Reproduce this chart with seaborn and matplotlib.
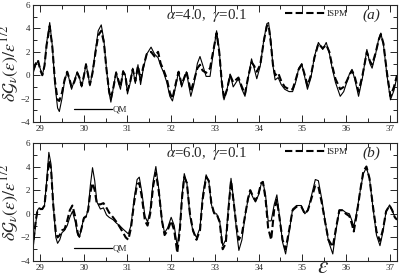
import numpy as np
import pandas as pd
import matplotlib
matplotlib.use("Agg")
import matplotlib.pyplot as plt
from matplotlib.lines import Line2D
from matplotlib.ticker import MultipleLocator
import seaborn as sns

# panel (a): alpha=4.0, gamma=0.1
eps_a_qm = [28.85, 28.90, 28.95, 29.00, 29.05, 29.10, 29.15, 29.22, 29.28, 29.34,
            29.40, 29.44, 29.50, 29.56, 29.62, 29.67, 29.72, 29.78, 29.85, 29.90,
            29.95, 30.00, 30.05, 30.10, 30.14, 30.20, 30.27, 30.33, 30.40, 30.46,
            30.52, 30.58, 30.62, 30.68, 30.74, 30.79, 30.84, 30.90, 30.95, 31.00,
            31.06, 31.12, 31.18, 31.24, 31.30, 31.36, 31.44, 31.54, 31.62, 31.70,
            31.76, 31.82, 31.90, 31.97, 32.03, 32.10, 32.17, 32.24, 32.30, 32.35,
            32.40, 32.45, 32.52, 32.60, 32.66, 32.72, 32.80, 32.89, 32.96, 33.04,
            33.10, 33.16, 33.21, 33.28, 33.35, 33.42, 33.54, 33.62, 33.69, 33.76,
            33.84, 33.90, 33.96, 34.04, 34.12, 34.19, 34.23, 34.28, 34.33, 34.38,
            34.45, 34.52, 34.60, 34.70, 34.78, 34.85, 34.92, 34.99, 35.06, 35.12,
            35.20, 35.28, 35.37, 35.47, 35.55, 35.62, 35.68, 35.76, 35.87, 35.95,
            36.02, 36.08, 36.14, 36.20, 36.29, 36.38, 36.48, 36.55, 36.60, 36.68,
            36.75, 36.80, 36.86, 36.94, 37.02, 37.10, 37.17]
dg_a_qm = [0.3, 0.9, 1.2, 0.6, 0.0, 0.8, 2.8, 4.5, 2.5, -0.8,
           -2.8, -3.1, -2.0, -0.5, 0.3, -0.4, -1.2, -0.5, 0.3, -0.2,
           -1.0, -0.2, 1.0, 0.0, -0.9, 0.3, 2.2, 3.8, 4.3, 3.0,
           0.5, -1.5, -2.3, -1.0, 0.3, -0.6, -1.2, 0.4, 0.0, -1.6,
           -0.7, 0.6, -0.7, 0.9, -0.8, 0.5, 1.8, 2.4, 1.8, 1.5,
           0.8, 0.3, -0.6, -1.8, -2.2, -1.0, 0.3, -1.0, -0.3, 0.3,
           -0.8, -1.8, -0.8, 1.0, 1.6, 0.9, -0.1, -0.1, 1.8, 3.8,
           2.2, -0.8, -2.1, -1.2, 0.1, -1.0, -0.3, -1.2, -1.8, -0.3,
           1.4, 0.6, -0.3, 0.8, 3.0, 4.4, 4.5, 3.0, 0.8, -0.4,
           -0.2, -0.8, -1.2, -1.4, -1.4, -0.6, 0.6, 1.0, -0.2, -1.2,
           -0.2, 1.6, 2.8, 2.2, 2.8, 1.9, 0.7, -0.6, -1.8, -1.4,
           -0.6, 0.1, 0.5, -0.3, -1.8, -0.2, 2.2, 1.0, 0.6, 1.8,
           3.1, 3.6, 2.6, 0.0, -2.1, -1.3, -0.1]

eps_a_sp = eps_a_qm
dg_a_sp = [0.5, 1.0, 1.3, 0.5, 0.0, 0.8, 2.6, 4.2, 2.4, -0.5,
           -2.1, -2.2, -1.5, -0.4, 0.3, -0.3, -1.0, -0.6, 0.2, -0.2,
           -0.9, -0.1, 0.9, 0.0, -0.8, 0.2, 2.0, 3.4, 3.8, 2.8,
           0.5, -1.4, -2.0, -1.0, 0.2, -0.4, -1.0, 0.3, 0.0, -1.3,
           -0.6, 0.5, -0.5, 0.8, -0.4, 0.7, 1.8, 2.0, 1.6, 2.0,
           1.0, 0.5, -0.3, -1.5, -2.0, -0.8, 0.3, -0.8, -0.2, 0.3,
           -0.5, -1.4, -0.5, 0.6, 0.9, 0.4, 0.2, 0.6, 2.0, 3.6,
           2.0, -0.6, -2.0, -1.2, 0.0, -0.6, -0.2, -1.0, -1.6, -0.2,
           1.1, 0.8, 0.3, 0.9, 2.9, 4.2, 4.3, 2.8, 0.9, 0.0,
           0.2, -0.5, -1.0, -1.2, -1.2, -0.4, 0.5, 0.9, 0.0, -0.9,
           0.0, 1.5, 2.7, 2.3, 2.6, 2.0, 0.9, -0.3, -1.2, -1.0,
           -0.5, 0.0, 0.4, -0.1, -1.4, 0.0, 2.0, 1.2, 0.9, 1.9,
           3.0, 3.5, 2.7, 0.2, -1.8, -1.0, 0.0]

# panel (b): alpha=6.0, gamma=0.1
eps_b_qm = [28.85, 28.90, 28.94, 28.98, 29.05, 29.10, 29.15, 29.20, 29.25, 29.30,
            29.36, 29.40, 29.45, 29.50, 29.56, 29.62, 29.68, 29.74, 29.80, 29.86,
            29.90, 29.95, 30.00, 30.05, 30.10, 30.15, 30.20, 30.25, 30.30, 30.38,
            30.45, 30.52, 30.58, 30.67, 30.75, 30.82, 30.90, 30.96, 31.02, 31.08,
            31.15, 31.22, 31.27, 31.33, 31.40, 31.46, 31.52, 31.59, 31.65, 31.72,
            31.79, 31.85, 31.92, 32.00, 32.07, 32.14, 32.20, 32.25, 32.30, 32.36,
            32.43, 32.50, 32.58, 32.66, 32.72, 32.80, 32.86, 32.92, 32.98, 33.04,
            33.11, 33.18, 33.25, 33.32, 33.37, 33.43, 33.50, 33.55, 33.62, 33.70,
            33.76, 33.81, 33.87, 33.93, 34.00, 34.06, 34.10, 34.16, 34.22, 34.29,
            34.36, 34.42, 34.48, 34.55, 34.62, 34.70, 34.78, 34.87, 34.98, 35.06,
            35.13, 35.21, 35.30, 35.37, 35.45, 35.52, 35.60, 35.70, 35.77, 35.85,
            35.93, 36.00, 36.08, 36.14, 36.18, 36.25, 36.33, 36.40, 36.47, 36.54,
            36.62, 36.70, 36.78, 36.85, 36.92, 37.00, 37.06, 37.12, 37.17]
dg_b_qm = [-2.6, -0.8, 0.3, 0.5, 0.4, 0.7, 2.8, 5.2, 4.2, 0.8,
           -2.0, -2.5, -2.2, -1.6, -1.4, -1.0, -0.3, 0.2, -0.6, -1.8,
           -2.0, -1.2, -0.3, -0.3, 0.4, 2.4, 3.9, 2.8, 1.0, 0.4,
           0.5, -0.1, -0.3, -0.5, -0.8, -1.0, -1.3, -1.5, -1.7, -1.0,
           1.2, 2.9, 3.1, 1.8, -0.2, -0.7, 0.3, 2.8, 4.0, 2.0,
           -0.6, -1.6, -1.2, -0.3, -1.0, -2.8, -1.0, 1.6, 3.4, 2.6,
           -0.2, -1.5, -2.0, -1.2, 1.5, 3.3, 2.8, 0.8, 0.0, 0.0,
           -0.6, -2.7, -2.2, 1.0, 3.0, 1.2, -1.6, -3.1, -2.2, 0.0,
           1.2, 1.9, 1.4, 1.0, 1.6, 2.5, 2.7, 1.6, -0.6, -0.6,
           0.8, 1.6, -0.2, -2.4, -3.4, -1.6, 0.4, 0.7, 0.7, 0.0,
           0.3, 1.5, 2.9, 2.8, 1.2, -0.5, -2.3, -3.4, -1.5, 0.3,
           0.3, 0.1, 0.0, -0.6, -1.1, 0.2, 2.0, 3.4, 3.9, 3.0,
           0.5, -1.8, -2.7, -1.5, 0.2, 0.75, 0.3, -0.3, -0.5]

eps_b_sp = eps_b_qm
dg_b_sp = [-2.2, -0.6, 0.3, 0.4, 0.4, 0.7, 2.5, 4.5, 3.8, 0.8,
           -1.6, -2.0, -1.8, -1.4, -1.3, -0.6, 0.3, 0.7, -0.2, -1.6,
           -1.9, -1.2, -0.4, -0.2, 0.3, 1.8, 2.6, 2.0, 0.8, 0.8,
           0.9, 0.5, 0.1, -0.3, -0.7, -1.1, -1.6, -2.0, -2.2, -1.2,
           0.9, 2.5, 2.6, 1.4, -0.6, -1.0, 0.0, 2.4, 3.5, 1.8,
           -0.6, -1.8, -1.4, -0.6, -1.4, -3.3, -1.3, 1.4, 3.1, 2.6,
           0.0, -1.4, -2.2, -1.4, 1.2, 3.1, 2.8, 0.9, 0.1, 0.0,
           -0.7, -3.0, -2.5, 0.7, 2.8, 1.0, -1.2, -2.2, -1.7, 0.0,
           1.3, 2.0, 1.5, 1.1, 1.7, 2.6, 2.7, 1.3, -1.2, -2.2,
           0.4, 1.2, -0.4, -2.2, -3.0, -1.4, 0.3, 0.6, 0.6, 0.0,
           0.3, 1.3, 2.4, 2.3, 0.9, -0.6, -2.2, -2.8, -1.3, 0.3,
           0.3, 0.0, -0.2, -0.9, -1.5, 0.0, 2.0, 3.6, 4.0, 3.0,
           0.6, -1.5, -2.3, -1.3, 0.2, 0.7, 0.3, -0.3, -0.5]

panels = [
    (eps_a_qm, dg_a_qm, eps_a_sp, dg_a_sp, r"$\alpha$=4.0,  $\gamma$=0.1", "(a)"),
    (eps_b_qm, dg_b_qm, eps_b_sp, dg_b_sp, r"$\alpha$=6.0,  $\gamma$=0.1", "(b)"),
]

sns.set_style("ticks")
plt.rcParams["font.family"] = ["Liberation Serif", "DejaVu Serif"]
plt.rcParams["mathtext.fontset"] = "stix"

fig = plt.figure(figsize=(3.99, 2.78), dpi=100)
ax_a = fig.add_axes([0.083, 0.561, 0.912, 0.421])
ax_b = fig.add_axes([0.083, 0.061, 0.912, 0.425])

for ax, (xq, yq, xs, ys, lab, tag) in zip([ax_a, ax_b], panels):
    df = pd.DataFrame({"eps": xq, "qm": yq, "ispm": ys})
    sns.lineplot(data=df, x="eps", y="ispm", ax=ax, color="black", lw=1.5,
                 linestyle=(0, (3.5, 1.6)), sort=False)
    sns.lineplot(data=df, x="eps", y="qm", ax=ax, color="black", lw=0.8, sort=False)
    ax.set_xlim(28.84, 37.17)
    ax.set_ylim(-4, 6)
    ax.xaxis.set_major_locator(MultipleLocator(1))
    ax.xaxis.set_minor_locator(MultipleLocator(0.5))
    ax.yaxis.set_major_locator(MultipleLocator(2))
    ax.yaxis.set_minor_locator(MultipleLocator(1))
    ax.tick_params(which="both", direction="in", top=True, right=True,
                   labelsize=6.5, pad=2, width=0.7)
    ax.tick_params(which="major", length=5)
    ax.tick_params(which="minor", length=3)
    for s in ax.spines.values():
        s.set_linewidth(0.8)
    ax.set_xlabel("")
    ax.set_ylabel(r"$\delta\mathcal{G}_\nu(\varepsilon)/\varepsilon^{1/2}$",
                  fontsize=13, labelpad=0)
    ax.text(0.478, 0.91, lab, transform=ax.transAxes, fontsize=10.8, va="center", ha="center")
    ax.text(0.93, 0.91, tag, transform=ax.transAxes, fontsize=11, va="center",
            ha="center", style="italic")
    lg1 = ax.legend(handles=[Line2D([], [], color="black", lw=0.9)], labels=["QM"],
                    loc="lower left", bbox_to_anchor=(0.09, 0.0), frameon=False,
                    fontsize=6.5, handlelength=4.2, handletextpad=0.1)
    ax.add_artist(lg1)
    ax.legend(handles=[Line2D([], [], color="black", lw=1.5, linestyle=(0, (3.5, 1.6)))],
              labels=["ISPM"], loc="upper left", bbox_to_anchor=(0.67, 1.03),
              frameon=False, fontsize=6.5, handlelength=4.5, handletextpad=0.1)

fig.text(0.81, 0.0, r"$\varepsilon$", fontsize=17, ha="center", va="bottom")

fig.savefig("out.png", dpi=100)
